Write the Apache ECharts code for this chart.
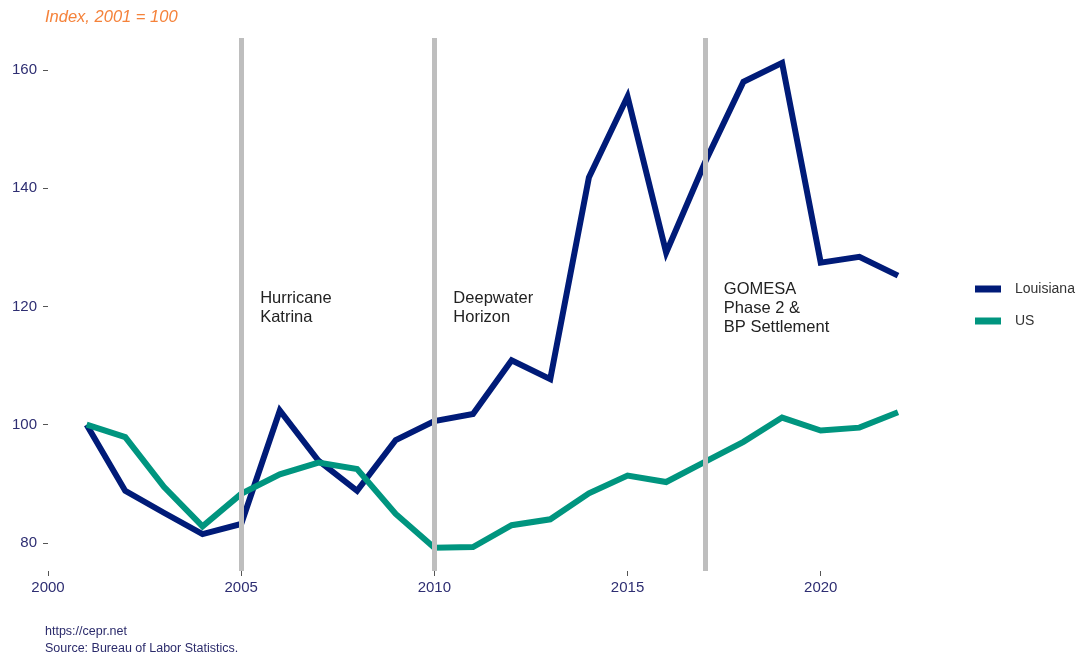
<!DOCTYPE html>
<html>
<head>
<meta charset="utf-8">
<script src="https://cdn.jsdelivr.net/npm/echarts@6/dist/echarts.min.js"></script>
<style>
html,body{margin:0;padding:0;background:#fff;}
#chart{width:1078px;height:655px;}
</style>
</head>
<body>
<div id="chart"></div>
<script>
var years = [2001,2002,2003,2004,2005,2006,2007,2008,2009,2010,2011,2012,2013,2014,2015,2016,2017,2018,2019,2020,2021,2022];
var louisiana = [100,88.8,85.1,81.5,83.2,102.4,93.9,88.8,97.4,100.6,101.8,110.9,107.7,141.8,155.5,129.1,144.3,158.0,161.2,127.4,128.4,125.2];
var us = [100,97.9,89.5,82.8,88.3,91.6,93.6,92.5,84.9,79.2,79.3,83.0,84.0,88.4,91.4,90.3,93.7,97.1,101.2,99.0,99.5,102.1];
var xTicks = [2000,2005,2010,2015,2020];
var yTicks = [80,100,120,140,160];
var eventYears = [2005,2010,2017];
var eventLabels = ['Hurricane\nKatrina','Deepwater\nHorizon','GOMESA\nPhase 2 &\nBP Settlement'];
var eventLabelY = [119.8,119.8,119.6];

var FONT = 'Liberation Sans, Arial, sans-serif';
var NAVY = '#001b78';
var TEAL = '#00957f';

function pairs(vals){ return years.map(function(y,i){ return [y, vals[i]]; }); }

var chart = echarts.init(document.getElementById('chart'), null, {renderer:'canvas'});
chart.setOption({
  animation:false,
  backgroundColor:'#fff',
  textStyle:{fontFamily:FONT},
  graphic:[
    {type:'text', left:45, top:9, style:{text:'Index, 2001 = 100', fill:'#f5823a', font:'italic 16.5px ' + FONT}},
    {type:'text', left:45, top:625, style:{text:'https://cepr.net', fill:'#2b2b6b', font:'12.5px ' + FONT}},
    {type:'text', left:45, top:642, style:{text:'Source: Bureau of Labor Statistics.', fill:'#2b2b6b', font:'12.5px ' + FONT}}
  ],
  legend:{
    orient:'vertical', left:975, top:282, padding:0, itemWidth:26, itemHeight:7, itemGap:18,
    icon:'rect',
    textStyle:{fontSize:14, color:'#333', fontFamily:FONT, padding:[0,0,0,9]},
    data:['Louisiana','US']
  },
  grid:{left:48, top:38, width:850, bottom:84, containLabel:false},
  xAxis:{
    type:'value', min:2000, max:2022,
    axisLine:{show:false},
    splitLine:{show:false},
    axisTick:{show:true, length:5, lineStyle:{color:'#555', width:1}, customValues:xTicks},
    axisLabel:{customValues:xTicks, color:'#2e2e72', fontSize:15, margin:9, fontFamily:FONT,
      formatter:function(v){ return String(v); }}
  },
  yAxis:{
    type:'value', min:75.25, max:165.4,
    axisLine:{show:false},
    splitLine:{show:false},
    axisTick:{show:true, length:5, lineStyle:{color:'#555', width:1}, customValues:yTicks},
    axisLabel:{customValues:yTicks, color:'#2e2e72', fontSize:15, margin:11, fontFamily:FONT}
  },
  series:[
    {
      name:'events', type:'line', data:[], silent:true,
      markLine:{
        silent:true, symbol:'none', label:{show:false},
        lineStyle:{color:'#bebebe', width:5, type:'solid'},
        data:eventYears.map(function(y){ return {xAxis:y}; })
      },
      markPoint:{
        silent:true, symbol:'circle', symbolSize:0,
        label:{show:true, position:'right', distance:19, color:'#222', fontSize:16.5, lineHeight:19, fontFamily:FONT, align:'left'},
        data:eventYears.map(function(y,i){ return {coord:[y, eventLabelY[i]], value:eventLabels[i], label:{formatter:eventLabels[i]}}; })
      }
    },
    {name:'Louisiana', type:'line', data:pairs(louisiana), showSymbol:false, symbol:'none', color:NAVY, lineStyle:{width:6, color:NAVY, join:'miter'}, z:3},
    {name:'US', type:'line', data:pairs(us), showSymbol:false, symbol:'none', color:TEAL, lineStyle:{width:6, color:TEAL, join:'miter'}, z:4}
  ]
});
</script>
</body>
</html>
